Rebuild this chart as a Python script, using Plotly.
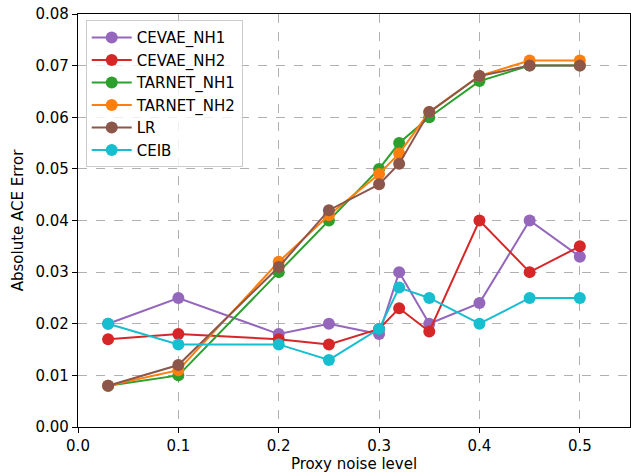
import plotly.graph_objects as go

noise = [0.03, 0.1, 0.2, 0.25, 0.3, 0.32, 0.35, 0.4, 0.45, 0.5]
cevae_nh1 = [0.020, 0.025, 0.018, 0.020, 0.018, 0.030, 0.020, 0.024, 0.040, 0.033]
cevae_nh2 = [0.017, 0.018, 0.017, 0.016, 0.019, 0.023, 0.0185, 0.040, 0.030, 0.035]
tarnet_nh1 = [0.008, 0.010, 0.030, 0.040, 0.050, 0.055, 0.060, 0.067, 0.070, 0.070]
tarnet_nh2 = [0.008, 0.011, 0.032, 0.041, 0.049, 0.053, 0.061, 0.068, 0.071, 0.071]
lr = [0.008, 0.012, 0.031, 0.042, 0.047, 0.051, 0.061, 0.068, 0.070, 0.070]
ceib = [0.020, 0.016, 0.016, 0.013, 0.019, 0.027, 0.025, 0.020, 0.025, 0.025]

series = [
    ("CEVAE_NH1", cevae_nh1, "#9467bd"),
    ("CEVAE_NH2", cevae_nh2, "#d62728"),
    ("TARNET_NH1", tarnet_nh1, "#2ca02c"),
    ("TARNET_NH2", tarnet_nh2, "#ff7f0e"),
    ("LR", lr, "#8c564b"),
    ("CEIB", ceib, "#17becf"),
]

fig = go.Figure()
for name, vals, color in series:
    fig.add_trace(go.Scatter(
        x=noise, y=vals, name=name, mode="lines+markers",
        line=dict(color=color, width=2),
        marker=dict(color=color, size=12),
    ))

axis_common = dict(
    showline=True, linecolor="black", linewidth=1.3, mirror=True,
    ticks="outside", ticklen=5, tickcolor="black",
    showgrid=True, gridcolor="#b0b0b0", griddash="dash", gridwidth=1,
    zeroline=False, automargin=False,
    tickfont=dict(family="DejaVu Sans", size=15, color="black"),
)

fig.update_layout(
    width=631, height=473,
    margin=dict(l=78, r=1, t=14, b=46),
    paper_bgcolor="white", plot_bgcolor="white",
    font=dict(family="DejaVu Sans", size=15, color="black"),
    xaxis=dict(range=[0, 0.55], tickvals=[0, 0.1, 0.2, 0.3, 0.4, 0.5],
               tickformat=".1f",
               title=dict(text="Proxy noise level", standoff=0,
                          font=dict(family="DejaVu Sans", size=15)),
               **axis_common),
    yaxis=dict(range=[0, 0.08], tickvals=[0, 0.01, 0.02, 0.03, 0.04, 0.05, 0.06, 0.07, 0.08],
               tickformat=".2f",
               title=dict(text="Absolute ACE Error", standoff=8,
                          font=dict(family="DejaVu Sans", size=15)),
               **axis_common),
    legend=dict(x=0.014, y=0.985, xanchor="left", yanchor="top",
                bgcolor="rgba(255,255,255,0.8)", bordercolor="#cccccc", borderwidth=1,
                font=dict(family="DejaVu Sans", size=15), tracegroupgap=0,
                itemwidth=40),
    showlegend=True,
)

fig.write_html("out.html", config={"displayModeBar": False},
               post_script="document.body.style.margin='0';document.body.style.overflow='hidden';")
